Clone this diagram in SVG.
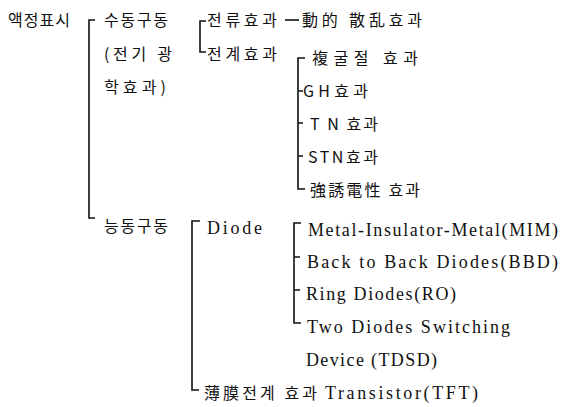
<svg xmlns="http://www.w3.org/2000/svg" width="562" height="407" viewBox="0 0 562 407">
<style>
.k{font-family:"Noto Sans CJK KR","Noto Sans",sans-serif;font-size:16px;fill:#111}
.l{font-family:"Liberation Serif","DejaVu Serif",serif;font-size:18px;fill:#111}
.c{fill:none;stroke:#111;stroke-width:1.6}
</style>
<rect width="562" height="407" fill="#fff"/>
<g id="connectors" class="c">
<path d="M95,20 H89 V218 H95"/>
<path d="M206,21 H200 V52 H206"/>
<path d="M285,20 H299"/>
<path d="M305,58 H298 V189 H305 M298,91 H303 M298,123 H303 M298,156 H303"/>
<path d="M200,221 H192 V390 H199"/>
<path d="M301,223 H294 V323 H301 M294,257 H300 M294,290 H300"/>
</g>
<g id="n-root"><text class="k" x="8" y="26" textLength="62">액정표시</text></g>
<g id="n-passive"><text class="k" x="104" y="26" textLength="64">수동구동</text><text class="k" x="104" y="60" textLength="68">(전기 광</text><text class="k" x="104" y="93" textLength="62">학효과)</text></g>
<g id="n-current"><text class="k" x="207" y="26" textLength="70">전류효과</text></g>
<g id="n-dsm"><text class="k" x="302" y="26" textLength="120">動的 散乱효과</text></g>
<g id="n-field"><text class="k" x="207" y="60" textLength="70">전계효과</text></g>
<g id="n-bire"><text class="k" x="312" y="64" textLength="106">複굴절 효과</text></g>
<g id="n-gh"><text class="k" x="303" y="97" textLength="65">GH효과</text></g>
<g id="n-tn"><text class="k" x="310" y="130" textLength="68">T N 효과</text></g>
<g id="n-stn"><text class="k" x="308" y="163" textLength="70">STN효과</text></g>
<g id="n-ferro"><text class="k" x="310" y="196" textLength="110">強誘電性 효과</text></g>
<g id="n-active"><text class="k" x="104" y="232" textLength="64">능동구동</text></g>
<g id="n-diode"><text class="l" x="207" y="234" textLength="55">Diode</text></g>
<g id="n-mim"><text class="l" x="308" y="236" textLength="250">Metal-Insulator-Metal(MIM)</text></g>
<g id="n-bbd"><text class="l" x="307" y="268" textLength="251">Back to Back Diodes(BBD)</text></g>
<g id="n-ro"><text class="l" x="306" y="300" textLength="150">Ring Diodes(RO)</text></g>
<g id="n-tdsd"><text class="l" x="307" y="333" textLength="203">Two Diodes Switching</text><text class="l" x="306" y="366" textLength="131">Device (TDSD)</text></g>
<g id="n-tft"><text class="k" x="204" y="399" textLength="113">薄膜전계 효과</text><text class="l" x="325" y="399" textLength="153">Transistor(TFT)</text></g>
</svg>
